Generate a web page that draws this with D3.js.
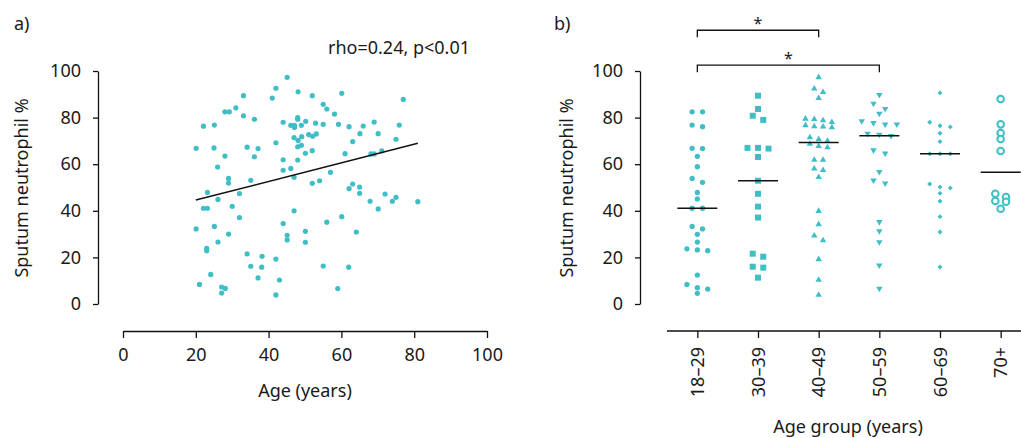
<!DOCTYPE html>
<html><head><meta charset="utf-8">
<script src="https://cdn.jsdelivr.net/npm/d3@7"></script>
<style>
body{margin:0;background:#fff}
svg{display:block}
text{font-family:"Noto Sans",sans-serif;fill:#1a1a1a}
</style>
</head><body>
<svg id="c" width="1021" height="438"></svg>
<script>
// ---------- Panel a data: age vs sputum neutrophil % ----------
const ageA = [
33.1,28.0,29.2,31.0,33.1,36.1,22.1,25.1,20.1,25.0,34.1,37.1,28.0,36.1,26.0,29.0,29.0,35.1,23.2,32.0,
26.1,22.1,23.2,30.0,32.0,20.1,25.1,29.0,26.1,23.0,23.0,34.1,38.2,35.1,38.1,24.1,37.1,21.0,27.1,28.1,27.1,
45.1,42.0,41.0,48.1,52.0,60.1,55.0,56.0,58.1,44.0,46.1,47.1,47.1,48.0,48.0,49.0,50.2,52.9,55.0,59.2,
51.0,52.1,53.1,47.0,48.1,49.1,48.0,49.0,42.0,50.1,52.0,44.0,48.0,44.0,46.1,47.0,57.0,52.0,54.0,47.0,
44.0,56.0,60.1,50.1,45.1,45.1,50.1,42.0,55.0,43.0,59.0,42.0,
77.0,62.1,66.0,69.0,75.9,65.1,70.1,63.1,75.0,61.0,68.1,69.0,71.1,62.1,63.1,65.0,65.0,72.0,67.9,70.1,
74.0,75.0,81.0,64.1,62.0
];
const neutA = [
89.4,82.5,82.5,84.2,80.8,79.3,76.3,76.8,66.8,67.0,67.3,66.7,63.5,63.2,58.8,53.9,51.9,53.1,47.9,47.4,
44.9,41.1,41.1,41.9,37.1,32.2,33.3,30.0,26.6,23.9,22.9,21.5,20.5,16.2,15.8,12.7,11.2,8.4,7.3,6.7,4.7,
97.3,92.6,88.4,91.1,89.4,90.4,85.7,83.7,81.5,78.0,76.7,76.7,75.8,80.0,79.3,76.7,78.4,77.6,77.1,77.1,
72.7,72.0,73.0,71.4,70.2,71.8,67.5,68.1,69.2,64.7,65.8,61.9,61.8,57.4,58.2,54.4,56.5,51.8,52.9,40.0,
34.5,35.1,37.5,31.2,29.5,27.5,26.5,19.3,16.3,10.3,6.6,3.9,
87.8,76.1,76.4,78.1,76.8,73.1,73.1,69.7,70.7,64.5,64.4,64.4,65.7,49.5,51.5,50.2,47.5,47.2,44.1,40.8,
44.1,45.8,43.9,30.9,15.8
];
const fitAge = [20, 81];
const fitNeut = [44.6, 69.0];
const statText = "rho=0.24, p<0.01";
const xTicksA = [0, 20, 40, 60, 80, 100];
const yTicks = [0, 20, 40, 60, 80, 100];

// ---------- Panel b data: age groups ----------
const groups = ["18–29", "30–39", "40–49", "50–59", "60–69", "70+"];
const g18_29 = [82.5,82.5,76.8,76.1,66.7,66.8,63.4,58.9,52.2,53.9,47.9,45.1,41.1,41.1,32.2,33.3,29.9,26.6,23.2,22.9,23.7,12.4,8.4,7.0,6.4,4.6];
const g30_39 = [89.4,83.7,80.8,79.0,67.0,66.7,67.0,63.1,52.9,47.3,41.8,37.1,21.6,20.3,16.0,15.6,11.3];
const g40_49 = [97.3,92.4,90.9,88.3,79.5,79.3,78.8,78.0,76.7,76.1,75.8,76.2,71.5,70.7,70.0,67.7,68.7,67.2,61.8,61.8,58.1,57.4,54.4,39.9,34.2,29.3,27.3,19.2,10.3,3.9];
const g50_59 = [89.8,86.0,83.8,81.7,77.1,77.7,78.5,77.1,73.1,72.2,72.7,64.7,66.0,56.7,53.1,51.8,35.2,31.3,26.6,16.6,6.6];
const g60_69 = [90.6,78.0,76.0,76.5,73.3,69.7,64.5,64.5,64.5,51.5,50.2,49.8,47.5,44.1,37.5,30.9,15.9];
const g70p = [88.0,77.1,73.4,70.8,65.7,47.3,45.9,44.2,43.9,40.9];
const groupValues = [g18_29, g30_39, g40_49, g50_59, g60_69, g70p];
const compPairs = [["18–29", "40–49"], ["18–29", "50–59"]];
const compLabels = ["*", "*"];
const compLevels = [117.5, 102.5];

// ---------- styling ----------
const TEAL = "#3fbec5";
const svg = d3.select("#c");
const FS = 18;

// ===== Panel a =====
const xA = d3.scaleLinear().domain([0, 100]).range([123, 487]);
const yA = d3.scaleLinear().domain([0, 100]).range([304, 71]);

function styleAxis(g) {
  g.selectAll("path,line").attr("stroke", "#111").attr("stroke-width", 1.3);
  g.selectAll("text").attr("font-size", FS).attr("font-family", '"Noto Sans",sans-serif').attr("fill", "#1a1a1a");
}

const gA = svg.append("g");
gA.append("g").attr("transform", "translate(98,0)")
  .call(d3.axisLeft(yA).tickValues(yTicks).tickSize(5).tickSizeOuter(0).tickPadding(12))
  .call(styleAxis);
gA.append("g").attr("transform", "translate(0,331)")
  .call(d3.axisBottom(xA).tickValues(xTicksA).tickSize(7).tickSizeOuter(0).tickPadding(10))
  .call(styleAxis);

gA.selectAll("circle.pt").data(ageA.map((a, i) => [a, neutA[i]])).join("circle")
  .attr("class", "pt").attr("cx", d => xA(d[0])).attr("cy", d => yA(d[1]))
  .attr("r", 2.6).attr("fill", TEAL);

gA.append("line")
  .attr("x1", xA(fitAge[0])).attr("y1", yA(fitNeut[0]))
  .attr("x2", xA(fitAge[1])).attr("y2", yA(fitNeut[1]))
  .attr("stroke", "#111").attr("stroke-width", 1.5);

svg.append("text").attr("x", 328).attr("y", 54).attr("font-size", FS).text(statText);
svg.append("text").attr("x", 14).attr("y", 30).attr("font-size", FS).text("a)");
svg.append("text").attr("x", 554).attr("y", 30).attr("font-size", FS).text("b)");
svg.append("text").attr("x", 305).attr("y", 397).attr("text-anchor", "middle").attr("font-size", FS).text("Age (years)");
svg.append("text").attr("transform", "translate(28,188) rotate(-90)").attr("text-anchor", "middle").attr("font-size", FS).text("Sputum neutrophil %");

// ===== Panel b =====
const xB = d3.scalePoint().domain(groups).range([667, 1031]).padding(0.5);
const yB = d3.scaleLinear().domain([0, 100]).range([304, 71]);

const gB = svg.append("g");
gB.append("g").attr("transform", "translate(640,0)")
  .call(d3.axisLeft(yB).tickValues(yTicks).tickSize(5).tickSizeOuter(0).tickPadding(12))
  .call(styleAxis);
const xAxB = gB.append("g").attr("transform", "translate(0,331)")
  .call(d3.axisBottom(xB).tickSize(7).tickSizeOuter(0).tickPadding(9))
  .call(styleAxis);
xAxB.select(".domain").attr("d", "M667,0H1031");
xAxB.selectAll(".tick text")
  .attr("transform", "rotate(-90)")
  .attr("text-anchor", "end")
  .attr("x", -16).attr("y", 0).attr("dy", "0.35em");

svg.append("text").attr("x", 848).attr("y", 433).attr("text-anchor", "middle").attr("font-size", FS).text("Age group (years)");
svg.append("text").attr("transform", "translate(573,188) rotate(-90)").attr("text-anchor", "middle").attr("font-size", FS).text("Sputum neutrophil %");

// marker styles per group
const markerStyles = [
  {type: d3.symbolCircle, size: 22, rot: 0, fill: TEAL, stroke: "none", sw: 0, step: 10.4},
  {type: d3.symbolSquare, size: 36, rot: 0, fill: TEAL, stroke: "none", sw: 0, step: 10.5},
  {type: d3.symbolTriangle, size: 18, rot: 0, fill: TEAL, stroke: "none", sw: 0, step: 8.8},
  {type: d3.symbolTriangle, size: 18, rot: 180, fill: TEAL, stroke: "none", sw: 0, step: 11.7},
  {type: d3.symbolSquare, size: 12, rot: 45, fill: TEAL, stroke: "none", sw: 0, step: 10.3},
  {type: d3.symbolCircle, size: 34, rot: 0, fill: "#fff", stroke: TEAL, sw: 2, step: 10.7}
];

// simple row-based swarm: values close together share a row, centred on the category
function swarm(values, tol) {
  const idx = values.map((v, i) => i).sort((a, b) => values[b] - values[a]);
  const out = new Array(values.length);
  let row = [];
  const flush = () => {
    const n = row.length;
    row.forEach((id, k) => { out[id] = k - (n - 1) / 2; });
    row = [];
  };
  idx.forEach(id => {
    if (row.length && values[row[0]] - values[id] > tol) flush();
    row.push(id);
  });
  flush();
  return out;
}

groupValues.forEach((vals, gi) => {
  const st = markerStyles[gi];
  const cx = xB(groups[gi]);
  const offs = swarm(vals, 2.36);
  const sym = d3.symbol().type(st.type).size(st.size);
  gB.append("g").selectAll("path").data(vals).join("path")
    .attr("d", sym)
    .attr("transform", (d, i) => `translate(${cx + offs[i] * st.step},${yB(d)}) rotate(${st.rot})`)
    .attr("fill", st.fill).attr("stroke", st.stroke).attr("stroke-width", st.sw);
  const med = d3.median(vals);
  gB.append("line").attr("x1", cx - 20).attr("x2", cx + 20)
    .attr("y1", yB(med)).attr("y2", yB(med))
    .attr("stroke", "#111").attr("stroke-width", 1.5);
});

// significance brackets
compPairs.forEach((p, i) => {
  const x1 = xB(p[0]), x2 = xB(p[1]);
  const y = yB(compLevels[i]);
  const legEnd = yB(compLevels[i] - 3);
  gB.append("path")
    .attr("d", `M${x1},${legEnd}V${y}H${x2}V${legEnd}`)
    .attr("fill", "none").attr("stroke", "#111").attr("stroke-width", 1.3);
  gB.append("text").attr("x", (x1 + x2) / 2).attr("y", y - 1)
    .attr("text-anchor", "middle").attr("font-size", 16).text(compLabels[i]);
});
</script>
</body></html>
